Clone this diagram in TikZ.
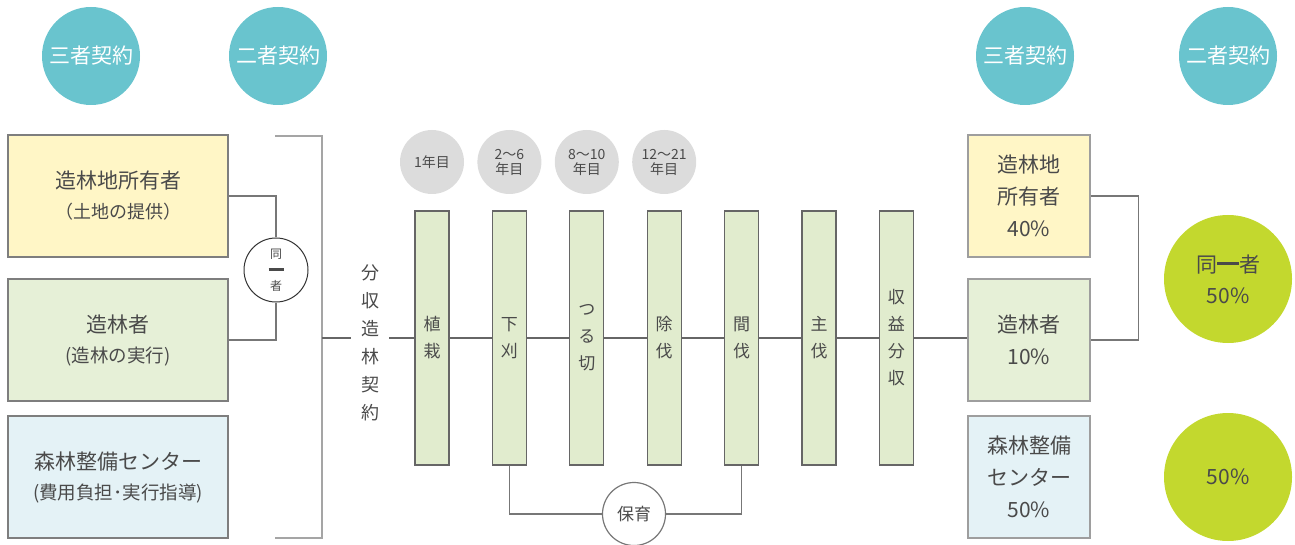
\documentclass[tikz,border=0pt]{standalone}
\usepackage{fontspec}
\setmainfont{Noto Sans CJK JP}
\definecolor{contractcol}{HTML}{69C4CE}
\definecolor{landcol}{HTML}{FFF6C6}
\definecolor{forestcol}{HTML}{E6F0D7}
\definecolor{centercol}{HTML}{E4F2F6}
\definecolor{barcol}{HTML}{E1ECCE}
\definecolor{yearcol}{HTML}{DCDCDC}
\definecolor{limecol}{HTML}{C3D82E}
\definecolor{txtcol}{HTML}{4A4A4A}
\definecolor{boxline}{HTML}{7E7E7E}
\definecolor{linkcol}{HTML}{777777}
\definecolor{maincol}{HTML}{666666}
\begin{document}
\begin{tikzpicture}[x=1pt,y=-1pt,
    every node/.style={text=txtcol},
    contract/.style={circle,fill=contractcol,minimum size=98pt,inner sep=0pt,text=white,font=\fontsize{21}{25}\selectfont},
    leftbox/.style={draw=boxline,line width=1.3pt,minimum width=220pt,minimum height=122pt,align=center,font=\fontsize{21}{30}\selectfont},
    rightbox/.style={draw=boxline!75,line width=1.3pt,minimum width=122pt,minimum height=122pt,align=center,font=\fontsize{21}{32}\selectfont},
    stage/.style={draw=maincol,line width=1.2pt,fill=barcol,minimum width=34pt,minimum height=254pt,inner sep=0pt,align=center,font=\fontsize{17}{27}\selectfont},
    yearmark/.style={circle,fill=yearcol,minimum size=64pt,inner sep=0pt,align=center,font=\fontsize{14}{15}\selectfont},
    share/.style={circle,fill=limecol,minimum size=128pt,inner sep=0pt,align=center,font=\fontsize{21}{31}\selectfont},
    link/.style={draw=linkcol,line width=1.2pt},
    mainline/.style={draw=maincol,line width=2pt}]
  \useasboundingbox (0,0) rectangle (1295,545);
  % contracts
  \node[contract] (t1) at (91,56) {三者契約};
  \node[contract] (t2) at (278,56) {二者契約};
  \node[contract] (t3) at (1025,56) {三者契約};
  \node[contract] (t4) at (1228,56) {二者契約};
  % parties
  \node[leftbox,fill=landcol] (l1) at (118,196) {造林地所有者\\{\fontsize{18}{30}\selectfont （土地の提供）}};
  \node[leftbox,fill=forestcol] (l2) at (118,340) {造林者\\{\fontsize{18.5}{30}\selectfont (造林の実行)}};
  \node[leftbox,fill=centercol] (l3) at (118,477) {森林整備センター\\{\fontsize{18.5}{30}\selectfont (費用負担･実行指導)}};
  \node[circle,draw=black!80,line width=1pt,fill=white,minimum size=64pt,inner sep=0pt,align=center,
        font=\fontsize{12}{16}\selectfont] (same) at (276,270) {同\\\rule[3pt]{15pt}{2.8pt}\\者};
  \draw[link] (l1.east) -| (same.north);
  \draw[link] (l2.east) -| (same.south);
  \coordinate (brtop) at (275,136);
  \coordinate (brbot) at (275,538);
  \coordinate (brmid) at (322,338);
  \draw[link,draw=boxline!70] (brtop) -- ++(47,0) |- (brbot);
  \node[align=center,inner xsep=10pt,font=\fontsize{18}{28}\selectfont] (split) at (370,343) {分\\収\\造\\林\\契\\約};
  % stages
  \foreach \i/\t in {1/{植\\栽},2/{下\\刈},3/{つ\\る\\切},4/{除\\伐},5/{間\\伐},6/{主\\伐},7/{収\\益\\分\\収}}
    \node[stage] (b\i) at ({432+77.4*(\i-1)},338) {\t};
  \foreach \i/\t in {1/1年目,2/{2〜6\\年目},3/{8〜10\\年目},4/{12〜21\\年目}}
    \node[yearmark] (y\i) at ({432+77.4*(\i-1)},162) {\t};
  \draw[mainline] (brmid) -- (brmid -| split.west);
  \draw[mainline] (split.east |- b1) -- (b1.west);
  \foreach \i [evaluate=\i as \j using int(\i+1)] in {1,...,6}
    \draw[mainline] (b\i.east) -- (b\j.west);
  \node[circle,draw=linkcol,line width=1.2pt,fill=white,minimum size=63pt,inner sep=0pt,
        font=\fontsize{17}{20}\selectfont] (care) at (634,514) {保育};
  \draw[link] (b2.south) |- (care.west);
  \draw[link] (b5.south) |- (care.east);
  % shares
  \node[rightbox,fill=landcol] (r1) at (1029,196) {造林地\\所有者\\40\%};
  \node[rightbox,fill=forestcol] (r2) at (1029,340) {造林者\\10\%};
  \node[rightbox,fill=centercol] (r3) at (1029,477) {森林整備\\センター\\50\%};
  \draw[mainline] (b7.east) -- (r2.west |- b7);
  \draw[link] (r1.east) -- ++(48,0) |- (r2.east);
  \node[share] (g1) at (1228,279) {同\rule[7pt]{22pt}{3pt}者\\50\%};
  \node[share] (g2) at (1228,477) {50\%};
\end{tikzpicture}
\end{document}
